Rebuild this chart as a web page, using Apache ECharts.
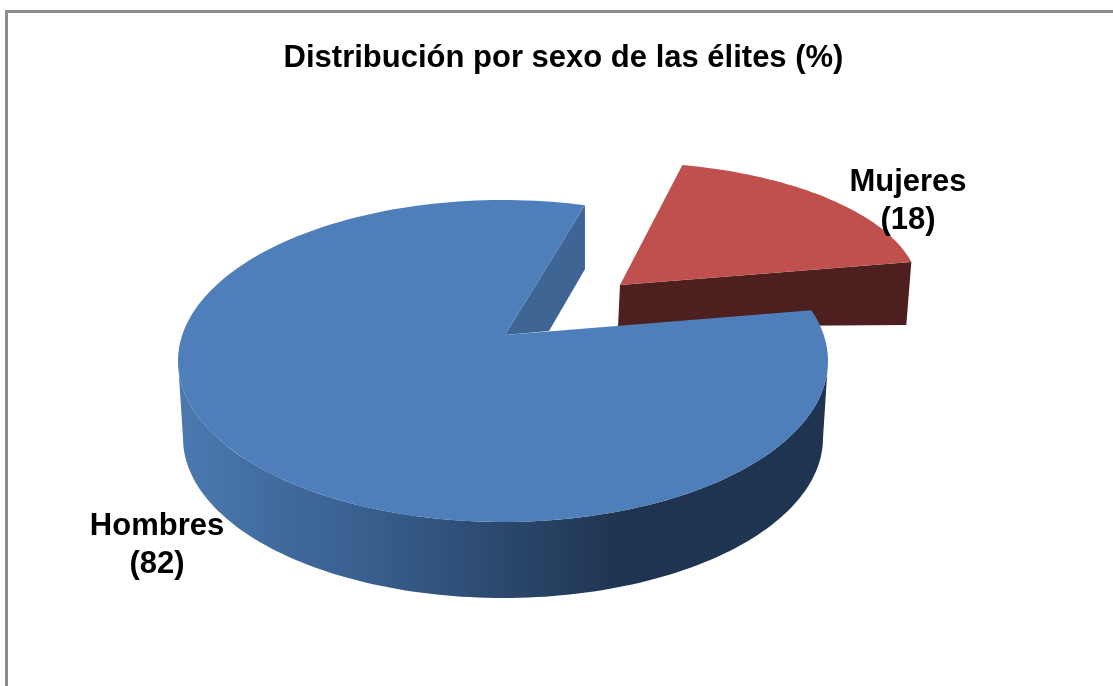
<!DOCTYPE html>
<html><head><meta charset="utf-8">
<style>html,body{margin:0;padding:0;background:#fff}#c{width:1113px;height:686px}</style>
<script src="https://cdn.jsdelivr.net/npm/echarts@6/dist/echarts.min.js"></script>
</head><body><div id="c"></div>
<script>
const titleText = 'Distribución por sexo de las élites (%)';
const categories = ['Hombres', 'Mujeres'];
const values = [82, 18];
const FONT = '"Liberation Sans", Arial, sans-serif';

// Layout of the simulated 3D projection, one entry per slice
const views = [
  { apex:[505,335], c:[503,361], rx:325, ry:161, startDeg:75.4, stretch:1.0264,
    base:{c:[503,438], rx:320, ry:160},
    top:'#4e7fba', cut:'#3f6594', label:[157,526], z:2 },
  { apex:[620,285], c:[619,291], rx:300, ry:129, startDeg:77.8, stretch:1,
    top:'#c0504d', cut:'#4d1f1e', label:[908,182], z:1 }
];
const total = values.reduce((a,b)=>a+b,0);
const rad = d => d*Math.PI/180;
const pt = (o,t) => [o.c[0]+o.rx*Math.cos(rad(t)), o.c[1]-o.ry*Math.sin(rad(t))];
function arc(o,a,b){const n=Math.ceil(Math.abs(b-a)/1.5),p=[];for(let i=0;i<=n;i++)p.push(pt(o,a+(b-a)*i/n));return p;}
const poly=(points,fill,z2)=>({type:'polygon',z2,silent:true,shape:{points},style:{fill,stroke:null}});

function renderItem(params, api){
  const i = params.dataIndex, v = views[i], val = api.value(1);
  const sweep = val/total*360*v.stretch;
  const kids = [];
  if (i === 0) {
    // counter-clockwise from the start edge, round the back and the left
    const end = v.startDeg + sweep;
    const sideFill = new echarts.graphic.LinearGradient(178,0,620,0,[
      {offset:0,color:'#4b79b0'},{offset:0.5,color:'#355a87'},{offset:1,color:'#1f3450'}],true);
    kids.push(poly(arc(v,180,360).concat(arc(v.base,360,180)),sideFill,v.z));
    const s = pt(v,v.startDeg);
    kids.push(poly([v.apex,s,[s[0],s[1]+64],[549,331]],v.cut,v.z+1));
    kids.push(poly([v.apex].concat(arc(v,v.startDeg,end)),v.top,v.z+2));
  } else {
    const end = v.startDeg - sweep;
    const e = pt(v,end);
    kids.push(poly([v.apex,e,[e[0]-5,e[1]+63],[v.apex[0]-2,v.apex[1]+42]],v.cut,v.z));
    kids.push(poly([v.apex].concat(arc(v,v.startDeg,end)),v.top,v.z));
  }
  kids.push({type:'text',z2:20,silent:true,x:v.label[0],y:v.label[1]-19,style:{
    text:categories[i]+'\n('+val+')',fill:'#000',font:'bold 31px '+FONT,lineHeight:38,
    align:'center',verticalAlign:'top'}});
  return {type:'group',children:kids};
}

const chart = echarts.init(document.getElementById('c'),null,{renderer:'canvas'});
chart.setOption({
  animation:false,
  backgroundColor:'#fff',
  title:{text:titleText,left:558.5,top:38,textAlign:'center',
    textStyle:{fontFamily:FONT,fontWeight:'bold',fontSize:31,color:'#000'}},
  graphic:[{type:'polyline',silent:true,shape:{points:[[6.5,686],[6.5,11.5],[1113,11.5]]},
    style:{stroke:'#8c8c8c',lineWidth:3,fill:null}}],
  series:[{
    type:'custom',coordinateSystem:'none',silent:true,clip:false,
    data:categories.map((c,i)=>({name:c,value:[i,values[i]]})),
    renderItem
  }]
});
</script></body></html>
